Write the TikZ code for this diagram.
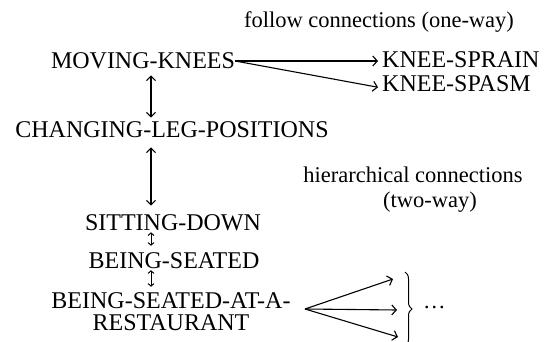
\documentclass[tikz,border=0pt]{standalone}
\usepackage{fontspec}
\setmainfont{Liberation Serif}
\usetikzlibrary{arrows.meta,decorations.pathreplacing}

\tikzset{
  caps/.style={inner sep=0pt, font=\fontsize{24}{22}\selectfont},
  lower/.style={inner sep=0pt, font=\fontsize{22.5}{21}\selectfont},
  oneway/.style={line width=1.1pt, -{Straight Barb[length=4.5pt,width=10pt,line width=1.1pt]}},
  twoway/.style={line width=1.1pt, {Straight Barb[length=4.5pt,width=9pt,line width=1.1pt]}-{Straight Barb[length=4.5pt,width=9pt,line width=1.1pt]}},
  tiny2way/.style={line width=1pt, {Straight Barb[length=2.5pt,width=6pt,line width=1pt]}-{Straight Barb[length=2.5pt,width=6pt,line width=1pt]}},
}

\begin{document}
\begin{tikzpicture}[x=1pt,y=-1pt]
\useasboundingbox (0,0) rectangle (544,342);

% labels for the two kinds of connection
\node[lower] (follow) at (379,22) {follow connections (one-way)};
\node[lower] (hier) at (413,175) {hierarchical connections};
\node[lower] (two) at (430,202) {(two-way)};

% concept nodes
\node[caps] (mk) at (143,61) {MOVING-KNEES};
\node[caps, anchor=west] (sprain) at (382,60) {KNEE-SPRAIN};
\node[caps, anchor=west] (spasm) at (382,84) {KNEE-SPASM};
\node[caps] (clp) at (172,130) {CHANGING-LEG-POSITIONS};
\node[caps] (sd) at (173,223) {SITTING-DOWN};
\node[caps] (bs) at (174,261) {BEING-SEATED};
\node[caps, align=center] (bsr) at (171,312) {BEING-SEATED-AT-A-\\RESTAURANT};

% follow connections
\draw[oneway, shorten >=4pt] (mk.east) -- (sprain.west |- mk.east);
\draw[oneway, shorten >=4pt] (mk.east) -- ([yshift=-4pt]spasm.west);

% hierarchy axis
\coordinate (axis) at (151,0);
\draw[twoway, shorten <=6pt, shorten >=4pt] (mk.south -| axis) -- (clp.north -| axis);
\draw[twoway, shorten <=9pt, shorten >=9pt] (clp.south -| axis) -- (sd.north -| axis);
\draw[tiny2way, shorten <=1pt, shorten >=7pt] (sd.south -| axis) -- (bs.north -| axis);
\draw[tiny2way, shorten <=1pt, shorten >=6pt] (bs.south -| axis) -- (bsr.north -| axis);

% fan of follow connections from the restaurant script
\coordinate (fan) at (305,309);
\coordinate (t1) at (393,279);
\coordinate (t2) at (397,310);
\coordinate (t3) at (398,337);
\draw[oneway] (fan) -- (t1);
\draw[oneway] (fan) -- (t2);
\draw[oneway] (fan) -- (t3);

\coordinate (btop) at (405,272);
\coordinate (bbot) at (405,346);
\draw[line width=1pt, decorate, decoration={brace, amplitude=7pt}] (btop) -- (bbot);
\node[lower, anchor=west] (dots) at (423,307) {\ldots};
\end{tikzpicture}
\end{document}
